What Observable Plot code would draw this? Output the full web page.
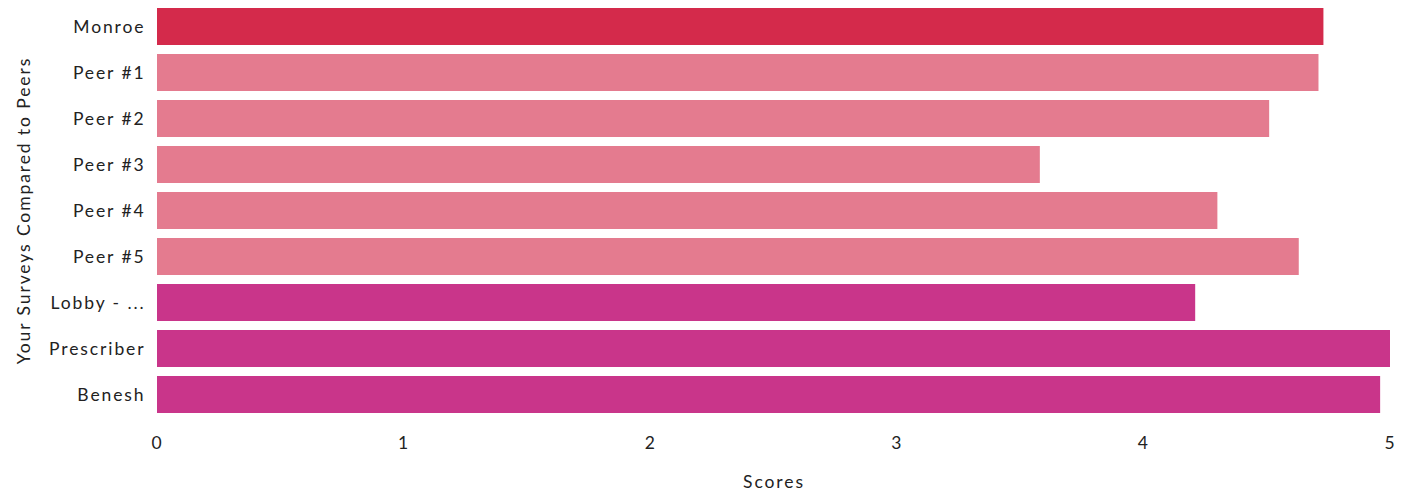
<!DOCTYPE html>
<html>
<head>
<meta charset="utf-8">
<script src="https://cdn.jsdelivr.net/npm/d3@7"></script>
<script src="https://cdn.jsdelivr.net/npm/@observablehq/plot@0.6"></script>
<style>
  html, body { margin: 0; padding: 0; background: #fff; }
  #chart svg { display: block; }
  #chart svg text { letter-spacing: 1.9px; }
</style>
</head>
<body>
<div id="chart"></div>
<script>
const categories = ["Monroe", "Peer #1", "Peer #2", "Peer #3", "Peer #4", "Peer #5", "Lobby - ...", "Prescriber", "Benesh"];
const scores = [4.73, 4.71, 4.51, 3.58, 4.30, 4.63, 4.21, 5.0, 4.96];
const groups = ["You", "Peer", "Peer", "Peer", "Peer", "Peer", "Survey", "Survey", "Survey"];
const groupNames = ["You", "Peer", "Survey"];
const groupColors = ["#d42a4b", "#e47b8f", "#c9358a"];
const xTicks = [0, 1, 2, 3, 4, 5];

const data = categories.map((c, i) => ({category: c, score: scores[i], group: groups[i]}));

const chart = Plot.plot({
  width: 1413,
  height: 498,
  marginLeft: 157,
  marginRight: 23,
  marginTop: 2,
  marginBottom: 80,
  style: {fontFamily: "Lato, sans-serif", fontSize: "17.5px", color: "#222", background: "#fff"},
  x: {domain: [0, 5], ticks: xTicks, tickFormat: "d", tickSize: 0, tickPadding: 18, label: "Scores", labelArrow: "none", labelAnchor: "center", labelOffset: 69},
  y: {domain: categories, padding: 0.2, paddingOuter: 0.1, tickSize: 0, tickPadding: 12, label: "Your Surveys Compared to Peers", labelArrow: "none", labelAnchor: "center", labelOffset: 140},
  color: {domain: groupNames, range: groupColors},
  marks: [
    Plot.barX(data, {x: "score", y: "category", fill: "group"})
  ]
});
document.getElementById("chart").appendChild(chart);
</script>
</body>
</html>
